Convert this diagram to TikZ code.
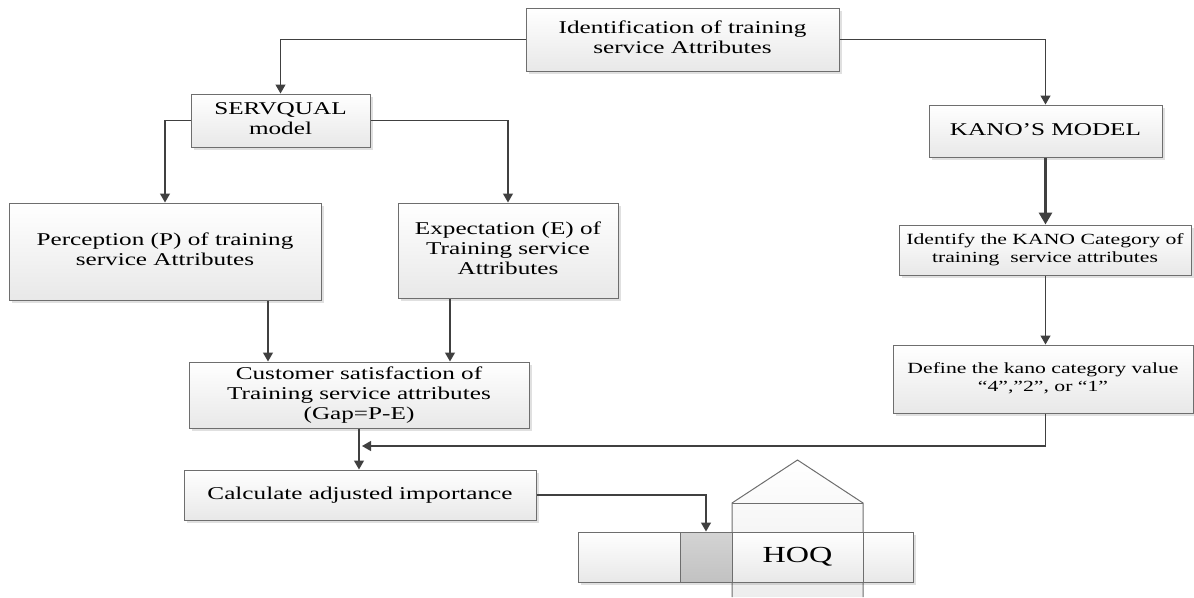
\documentclass[tikz,border=0pt]{standalone}
\usepackage{fontspec}
\setmainfont{Liberation Serif}
\usepackage{graphicx}
\usepackage{tikz}
\usetikzlibrary{shapes,arrows.meta,shadows}
% wide text, as in the drawing
\newcommand{\wt}[1]{\scalebox{1.4}[1]{\begin{tabular}{@{}c@{}}#1\end{tabular}}}
\tikzstyle{block} = [rectangle, draw=black!57, line width=1pt, top color=white,
    bottom color=black!9, inner sep=0pt, text centered,
    font=\fontsize{18}{20}\selectfont,
    drop shadow={shadow xshift=2.5pt, shadow yshift=-2.5pt, fill=black, opacity=0.12}]
\tikzstyle{smallblock} = [block, font=\fontsize{15.5}{18}\selectfont]
\tikzstyle{cell} = [block, minimum height=50pt]
\tikzstyle{line} = [draw=black!75, line width=1.3pt, -{Triangle[length=9pt,width=10pt]}]
\tikzstyle{bigline} = [line, line width=3pt, -{Triangle[length=12pt,width=13pt]}]

\begin{document}
\begin{tikzpicture}[x=1pt, y=-1pt]
  \useasboundingbox (0,0) rectangle (1194,597);
  % Place nodes
  \node [block, minimum width=313pt, minimum height=63pt] (ident) at (682.5,39.5)
  {\wt{Identification of training\\service Attributes}};
  \node [block, minimum width=179pt, minimum height=53pt] (servq) at (280.5,120.5)
  {\wt{SERVQUAL\\model}};
  \node [block, minimum width=312pt, minimum height=97pt] (perc) at (165,251.5)
  {\wt{Perception (P) of training\\service Attributes}};
  \node [block, minimum width=220pt, minimum height=95pt] (expect) at (508,250.5)
  {\wt{Expectation (E) of\\Training service\\Attributes}};
  \node [block, minimum width=340pt, minimum height=66pt] (cust) at (359,395)
  {\wt{Customer satisfaction of\\Training service attributes\\(Gap=P-E)}};
  \node [block, minimum width=352pt, minimum height=50pt] (calc) at (360,495)
  {\wt{Calculate adjusted importance}};
  \node [block, minimum width=233pt, minimum height=52pt] (kano) at (1045.5,131)
  {\wt{KANO’S MODEL}};
  \node [smallblock, minimum width=292pt, minimum height=50pt] (kanocat) at (1045,250)
  {\wt{Identify the KANO Category of\\training~ service attributes}};
  \node [smallblock, minimum width=300pt, minimum height=68pt] (kanoval) at (1043,379)
  {\wt{Define the kano category value\\“4”,”2", or “1”}};
  \coordinate (join) at (362,446);
  % house of quality
  \draw [draw=black!57, line width=1pt, top color=white, bottom color=black!7]
    (732,597) -- (732,503) -- (797.5,460) -- (863,503) -- (863,597);
  \draw [draw=black!57, line width=1pt] (732,503) -- (863,503);
  \node [cell, minimum width=102pt] (hoqL) at (629,557) {};
  \node [cell, minimum width=52pt, top color=black!17, bottom color=black!24] (hoqG) at (706,557) {};
  \node [cell, minimum width=131pt, font=\fontsize{23}{25}\selectfont] (hoqC) at (797.5,557)
  {\wt{HOQ}};
  \node [cell, minimum width=50pt] (hoqR) at (888,557) {};
  % Draw edges
  \draw [line] (ident.west) -| (servq.north);
  \draw [line] (ident.east) -| (kano.north);
  \draw [line] (servq.west) -| (perc.north);
  \draw [line] (servq.east) -| (expect.north);
  \draw [line] ([xshift=103pt]perc.south) -- ([xshift=103pt]perc.south |- cust.north);
  \draw [line] ([xshift=-58pt]expect.south) -- ([xshift=-58pt]expect.south |- cust.north);
  \draw [line] (cust.south) -- (cust.south |- calc.north);
  \draw [bigline] (kano.south) -- (kano.south |- kanocat.north);
  \draw [line] (kano.south |- kanocat.south) -- (kano.south |- kanoval.north);
  \draw [line] (kano.south |- kanoval.south) |- (join);
  \draw [line] (calc.east) -| (hoqG.north);
\end{tikzpicture}
\end{document}
